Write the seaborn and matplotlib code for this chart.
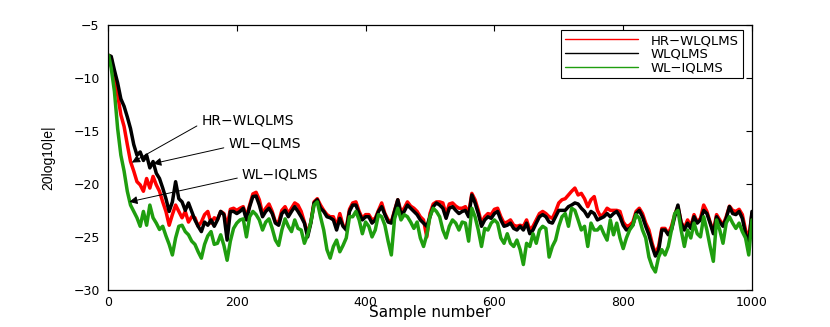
"""
Error curves (20log10|e|) of three widely linear QLMS filters vs. sample number.
"""
import numpy as np
import pandas as pd
import matplotlib
matplotlib.use("Agg")
import matplotlib.pyplot as plt
import seaborn as sns
from matplotlib.lines import Line2D

# sample grid: first sample, then every 5th sample
samples = [1] + list(range(5, 1001, 5))

hr_wlqlms = [
    -7.9, -8.1, -10.1, -11.6, -13.5, -14.6, -16.3, -17.9, -18.8, -19.8, -20.1, -20.7, -19.5, -20.4, -19.3, -20.1, -20.7,
    -21.7, -22.6, -23.9, -22.9, -22.0, -22.6, -23.2, -22.6, -23.6, -23.1, -23.2, -24.0, -23.6, -22.9, -22.6, -23.7, -23.2,
    -23.35, -22.6, -22.8, -24.0, -22.4, -22.3, -22.5, -22.3, -22.15, -23.1, -22.0, -20.95, -20.8, -21.5, -22.8, -22.3,
    -21.9, -22.6, -23.6, -23.6, -22.5, -22.15, -22.8, -22.3, -21.8, -22.0, -22.6, -23.6, -24.7, -23.6, -21.7, -21.4,
    -22.0, -22.5, -22.9, -23.1,
    -23.1, -24.0, -22.8, -23.9, -24.2, -22.4, -21.8, -21.7, -22.6, -23.25, -22.9, -22.9, -23.4, -23.25, -22.5, -21.8,
    -22.8, -23.4, -23.6, -22.5, -21.5, -22.6, -22.3, -21.7, -22.1, -22.3, -22.6, -23.1, -23.4, -25.0, -22.8, -21.9, -21.7,
    -21.7, -21.8, -22.9, -21.9, -21.8, -22.1, -22.3, -22.3, -22.15, -22.8, -20.9, -21.5, -22.5, -23.7, -23.1, -22.8,
    -22.9, -22.4, -22.3, -23.1, -23.7, -23.6, -23.4, -23.9, -24.0, -23.9, -24.0, -23.4, -24.35, -24.0, -23.4, -22.8,
    -22.6, -22.8, -23.1,
    -23.25, -22.6, -21.8, -21.5, -21.4, -21.05, -20.7, -20.4, -21.05, -20.9, -21.4, -22.15, -21.5, -21.2, -22.5, -23.1,
    -22.8, -22.3, -22.5, -22.5, -22.5, -22.6, -23.6, -24.0, -23.9, -23.6, -22.6, -22.3, -22.8, -23.7, -24.35, -25.6,
    -26.6, -25.9,
    -24.2, -24.2, -24.7, -24.0, -22.9, -22.15, -23.6, -24.2, -23.4, -24.0, -22.9, -23.6, -23.25, -22.0, -22.6, -23.6,
    -24.5, -22.9, -23.4, -23.9, -23.1, -22.1, -22.5, -22.6, -22.4, -22.9, -24.35, -25.1, -22.8,
]

wlqlms = [
    -7.9, -8.0, -9.3, -10.5, -12.0, -12.7, -13.7, -14.8, -16.3, -17.3, -17.0, -17.8, -17.3, -18.5, -17.9, -19.0, -19.5,
    -20.4, -21.4, -22.6, -21.7, -19.8, -21.4, -21.7, -22.5, -21.8, -22.6, -23.4, -24.0, -24.5, -23.6, -23.9, -23.4, -24.0,
    -23.4, -22.6, -22.9, -25.3, -22.6, -22.6, -22.8, -22.6, -22.3, -23.4, -22.15, -21.2, -21.15, -22.0, -23.1, -22.6,
    -22.3, -22.8, -23.7, -23.9, -22.8, -22.5, -23.1, -22.6, -22.15, -22.6, -23.1, -23.7, -25.0, -23.7, -21.8, -21.5,
    -22.3, -22.6, -23.1, -23.2,
    -23.4, -24.35, -23.25, -24.0, -24.35, -22.6, -22.0, -22.0, -22.8, -23.4, -23.1, -23.1, -23.7, -23.4, -22.6, -22.15,
    -22.9, -23.6, -23.7, -22.6, -21.5, -22.9, -22.6, -22.0, -22.3, -22.6, -22.9, -23.4, -23.7, -24.0, -23.1, -22.15, -21.8,
    -22.0, -22.3, -23.25, -22.3, -22.15, -22.5, -22.8, -22.6, -22.5, -23.1, -21.05, -21.8, -22.8, -24.0, -23.4, -23.1,
    -23.25, -22.8, -22.6, -23.4, -24.0, -23.9, -23.7, -24.2, -24.35, -24.0, -24.35, -23.7, -24.7, -24.35, -23.7, -23.1,
    -22.9, -23.1, -23.6,
    -23.7, -23.1, -22.5, -22.5, -22.5, -22.15, -22.0, -21.8, -21.9, -22.3, -22.6, -23.1, -22.6, -22.8, -23.4, -23.25,
    -23.1, -22.8, -23.1, -22.8, -22.6, -23.1, -23.9, -24.35, -24.2, -23.9, -22.8, -22.5, -23.1, -24.0, -24.8, -25.9,
    -26.8, -26.3,
    -24.35, -24.35, -24.8, -24.35, -23.1, -22.0, -23.7, -24.35, -23.7, -24.2, -23.1, -23.7, -23.4, -22.5, -22.8, -23.7,
    -24.7, -23.1, -23.6, -24.0, -23.25, -22.15, -22.8, -22.9, -22.6, -23.25, -24.7, -25.6, -22.6,
]

wl_iqlms = [
    -7.9, -9.1, -11.3, -14.8, -17.3, -18.8, -20.7, -22.0, -22.6, -23.2, -24.0, -22.6, -23.9, -22.0, -23.2, -23.7, -24.3,
    -24.0, -24.9, -25.7, -26.7, -25.1, -24.0, -23.9, -24.5, -24.8, -25.4, -25.7, -26.4, -27.0, -25.7, -24.9, -24.5, -25.7,
    -25.6, -24.8, -25.8, -27.2, -25.4, -24.2, -23.7, -23.4, -23.3, -25.0, -23.1, -22.6, -22.9, -23.4, -24.35, -23.6,
    -23.3, -24.2, -25.3, -25.8, -24.35, -23.3, -24.0, -24.5, -23.4, -24.2, -24.35, -25.6, -24.8, -23.6, -22.0, -21.7,
    -23.1, -24.35, -26.2, -27.0,
    -25.9, -25.3, -26.4, -25.8, -25.1, -23.1, -23.1, -22.6, -23.4, -24.7, -23.6, -24.0, -25.0, -24.35, -22.9, -23.1,
    -23.9, -25.4, -26.7, -23.3, -22.3, -23.4, -22.9, -23.1, -23.6, -24.2, -23.6, -25.1, -25.9, -24.8, -23.1, -22.3, -22.6,
    -23.1, -24.35, -25.1, -24.0, -23.4, -23.7, -24.35, -23.6, -23.7, -25.4, -22.3, -23.1, -24.35, -25.9, -24.2, -24.35,
    -23.7, -23.4, -23.7, -25.1, -25.6, -24.7, -25.6, -25.9, -25.3, -26.2, -27.6, -25.6, -25.9, -24.7, -25.6, -24.35,
    -24.0, -24.2, -26.9,
    -25.9, -25.3, -24.0, -23.1, -22.8, -24.0, -22.3, -22.5, -23.4, -24.35, -24.0, -25.9, -23.7, -24.35, -24.35, -24.0,
    -24.7, -25.3, -23.4, -24.8, -23.7, -25.1, -26.1, -25.1, -24.35, -23.9, -22.9, -23.25, -24.35, -25.1, -26.9, -27.8,
    -28.3, -26.9,
    -26.2, -26.7, -25.9, -24.35, -22.8, -22.5, -24.35, -25.9, -24.35, -25.1, -23.7, -24.7, -25.0, -23.1, -24.35, -25.9,
    -27.3, -23.4, -24.35, -25.6, -23.7, -23.1, -23.7, -24.2, -23.7, -24.5, -25.1, -26.7, -23.4,
]

algos = ["HR\u2212WLQLMS", "WLQLMS", "WL\u2212IQLMS"]
colors = ["#ff0000", "#000000", "#1f9e0f"]

# (label, arrow head, text position) in data units
notes = [
    ("HR\u2212WLQLMS", (37, -18.0), (145, -14.05)),
    ("WL\u2212QLMS", (70, -18.1), (187, -16.25)),
    ("WL\u2212IQLMS", (33, -21.7), (208, -19.1)),
]

df = pd.concat([
    pd.DataFrame({"sample": samples, "err": vals, "algo": name})
    for name, vals in zip(algos, [hr_wlqlms, wlqlms, wl_iqlms])
])

sns.set_style("white", {"xtick.direction": "in", "ytick.direction": "in",
                        "axes.edgecolor": "black", "text.color": "black",
                        "axes.labelcolor": "black", "xtick.color": "black",
                        "ytick.color": "black"})
plt.rcParams["font.family"] = ["DejaVu Sans"]

fig = plt.figure(figsize=(8.3, 3.27), dpi=100)
ax = fig.add_axes([0.1301, 0.1131, 0.7759, 0.8119])

sns.lineplot(data=df, x="sample", y="err", hue="algo", hue_order=algos,
             palette=colors, linewidth=2.5, legend=False, ax=ax, sort=False)

ax.set_xlim(0, 1000)
ax.set_ylim(-30, -5)
ax.set_xticks(range(0, 1001, 200))
ax.set_yticks(range(-30, -4, 5))
ax.tick_params(axis="both", which="both", direction="in", top=True, right=True,
               length=4, width=0.8, labelsize=9, colors="black")
ax.tick_params(axis="y", pad=6)
ax.tick_params(axis="x", pad=4)
for sp in ax.spines.values():
    sp.set_visible(True)
    sp.set_color("black")
    sp.set_linewidth(0.9)

ax.set_xlabel("Sample number", fontsize=11, color="black")
ax.set_ylabel("20log10|e|", fontsize=10, color="black",
              family=["Liberation Sans", "DejaVu Sans"])
ax.xaxis.label.set_va("center")
ax.xaxis.set_label_coords(0.5, -0.085)
ax.yaxis.label.set_va("center")
ax.yaxis.set_label_coords(-0.093, 0.5)

for label, head, txt in notes:
    ax.annotate(label, xy=head, xytext=txt, fontsize=10, color="black",
                ha="left", va="center",
                arrowprops=dict(arrowstyle="-|>", color="black", lw=0.7,
                                mutation_scale=12, shrinkA=1, shrinkB=0,
                                relpos=(0, 0.3)))

handles = [Line2D([], [], color=c, lw=1.0) for c in colors]
leg = ax.legend(handles, ["HR\u2212WLQLMS", "WLQLMS", "WL\u2212IQLMS"],
                loc="upper right", bbox_to_anchor=(0.986, 0.979), borderaxespad=0,
                fontsize=9.5, frameon=True, fancybox=False, framealpha=1,
                edgecolor="black", handlelength=5.5, handletextpad=1.0,
                labelspacing=0.05, borderpad=0.3)
leg.get_frame().set_linewidth(0.8)
for t in leg.get_texts():
    t.set_color("black")

fig.savefig("out.png", dpi=100)
plt.close(fig)
